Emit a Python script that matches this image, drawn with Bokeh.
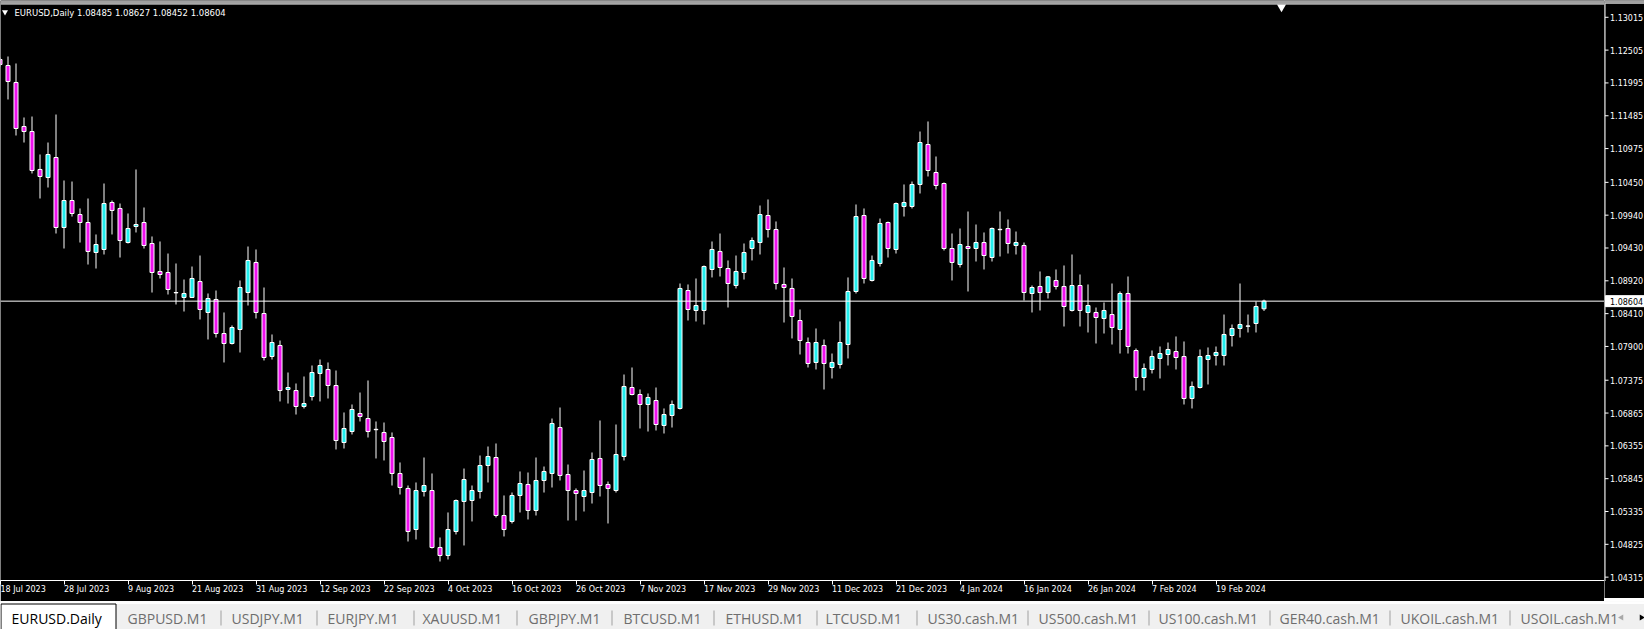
import math
from bokeh.plotting import figure
from bokeh.models import (ColumnDataSource, FixedTicker, Span, Range1d, BoxAnnotation)
from bokeh.layouts import column, row
from bokeh.embed import file_html
from bokeh.resources import INLINE
from bokeh.core.properties import value

# ---------------- data (EURUSD, Daily) ----------------
opens = [
    1.12359, 1.12266, 1.12002, 1.11318, 1.11240, 1.10650, 1.10525, 1.10836, 1.09748, 1.10168,
    1.09950, 1.09826, 1.09360, 1.09407, 1.10137, 1.10044, 1.09515, 1.09764, 1.09826, 1.09500,
    1.09065, 1.09049, 1.08738, 1.08661, 1.08661, 1.08909, 1.08428, 1.08630, 1.08101, 1.07946,
    1.08163, 1.08738, 1.09205, 1.08412, 1.07744, 1.07915, 1.07231, 1.07215, 1.06967, 1.07122,
    1.07480, 1.07542, 1.07293, 1.06407, 1.06578, 1.06858, 1.06780, 1.06612, 1.06563, 1.06485,
    1.05926, 1.05693, 1.05055, 1.05646, 1.05661, 1.04776, 1.04651, 1.05024, 1.05491, 1.05506,
    1.05646, 1.06050, 1.06174, 1.05273, 1.05180, 1.05584, 1.05755, 1.05351, 1.05817, 1.05926,
    1.06640, 1.05910, 1.05661, 1.05568, 1.05630, 1.06159, 1.05755, 1.05661, 1.06190, 1.07262,
    1.07153, 1.06998, 1.07060, 1.06672, 1.06827, 1.06936, 1.08769, 1.08459, 1.08459, 1.09096,
    1.09376, 1.09111, 1.08847, 1.09049, 1.09422, 1.09515, 1.09935, 1.09717, 1.08863, 1.08801,
    1.08303, 1.07961, 1.07651, 1.07915, 1.07573, 1.07619, 1.07930, 1.08754, 1.09935, 1.08925,
    1.09189, 1.09826, 1.09407, 1.10075, 1.10075, 1.10417, 1.11038, 1.10603, 1.10432, 1.09422,
    1.09173, 1.09453, 1.09422, 1.09515, 1.09282, 1.09720, 1.09733, 1.09469, 1.09469, 1.08723,
    1.08832, 1.08738, 1.08925, 1.08832, 1.08459, 1.08847, 1.08428, 1.08428, 1.08334, 1.08396,
    1.08163, 1.08723, 1.07837, 1.07417, 1.07542, 1.07713, 1.07775, 1.07821, 1.07744, 1.07091,
    1.07262, 1.07697, 1.07759, 1.07759, 1.08070, 1.08179, 1.08214, 1.08257, 1.08485]

highs = [
    1.12390, 1.12406, 1.12297, 1.11458, 1.11473, 1.10883, 1.11069, 1.11504, 1.10479, 1.10463,
    1.10044, 1.10199, 1.09640, 1.10432, 1.10168, 1.10121, 1.09966, 1.10650, 1.10059, 1.09609,
    1.09531, 1.09344, 1.09189, 1.08940, 1.09142, 1.09313, 1.08723, 1.08769, 1.08428, 1.08226,
    1.08925, 1.09453, 1.09407, 1.08816, 1.08086, 1.07992, 1.07495, 1.07324, 1.07433, 1.07604,
    1.07697, 1.07651, 1.07526, 1.06874, 1.06998, 1.07184, 1.07371, 1.06734, 1.06718, 1.06563,
    1.06097, 1.05739, 1.05786, 1.06174, 1.05926, 1.04931, 1.05320, 1.05522, 1.06003, 1.05739,
    1.06205, 1.06345, 1.06392, 1.05584, 1.05630, 1.05957, 1.05941, 1.06174, 1.06034, 1.06780,
    1.06951, 1.06065, 1.05693, 1.05972, 1.06252, 1.06749, 1.05801, 1.06687, 1.07464, 1.07573,
    1.07231, 1.07169, 1.07262, 1.06936, 1.07060, 1.08878, 1.08863, 1.08956, 1.09158, 1.09531,
    1.09655, 1.09236, 1.09313, 1.09500, 1.09593, 1.10090, 1.10184, 1.09842, 1.09127, 1.08956,
    1.08474, 1.08039, 1.08179, 1.08008, 1.07790, 1.08288, 1.08972, 1.10106, 1.10044, 1.09313,
    1.09888, 1.09840, 1.10137, 1.10417, 1.10463, 1.11240, 1.11396, 1.10852, 1.10448, 1.09655,
    1.09733, 1.09997, 1.09795, 1.09671, 1.09748, 1.09997, 1.09873, 1.09686, 1.09515, 1.08847,
    1.09065, 1.08995, 1.09096, 1.09158, 1.09329, 1.09018, 1.08863, 1.08505, 1.08583, 1.08878,
    1.08754, 1.08987, 1.07868, 1.07635, 1.07837, 1.07899, 1.07961, 1.08055, 1.07977, 1.07355,
    1.07853, 1.07884, 1.07899, 1.08396, 1.08241, 1.08878, 1.08396, 1.08599, 1.08627]

lows = [
    1.12250, 1.11738, 1.11178, 1.11069, 1.10588, 1.10199, 1.10370, 1.09655, 1.09422, 1.09919,
    1.09515, 1.09173, 1.09111, 1.09329, 1.09640, 1.09282, 1.09500, 1.09671, 1.09422, 1.08738,
    1.08956, 1.08707, 1.08552, 1.08443, 1.08655, 1.08319, 1.08008, 1.08039, 1.07651, 1.07930,
    1.07806, 1.08536, 1.08334, 1.07682, 1.07697, 1.07045, 1.07013, 1.06842, 1.06936, 1.07060,
    1.07045, 1.07091, 1.06299, 1.06314, 1.06532, 1.06734, 1.06485, 1.06159, 1.06128, 1.05739,
    1.05599, 1.04869, 1.04900, 1.05568, 1.04760, 1.04558, 1.04589, 1.04978, 1.04807, 1.05180,
    1.05537, 1.05786, 1.05242, 1.04947, 1.05149, 1.05320, 1.05211, 1.05273, 1.05630, 1.05708,
    1.05817, 1.05195, 1.05195, 1.05335, 1.05459, 1.05568, 1.05149, 1.05630, 1.06128, 1.07140,
    1.06625, 1.06578, 1.06594, 1.06547, 1.06640, 1.06920, 1.08303, 1.08288, 1.08241, 1.08972,
    1.08987, 1.08505, 1.08801, 1.08940, 1.09236, 1.09329, 1.09593, 1.08785, 1.08272, 1.08024,
    1.07775, 1.07573, 1.07542, 1.07231, 1.07402, 1.07557, 1.07713, 1.08723, 1.08878, 1.08909,
    1.09142, 1.09282, 1.09344, 1.09919, 1.10044, 1.10277, 1.10541, 1.10339, 1.09391, 1.08925,
    1.09127, 1.08754, 1.09220, 1.09096, 1.09220, 1.09298, 1.09344, 1.09329, 1.08614, 1.08428,
    1.08459, 1.08645, 1.08785, 1.08210, 1.08443, 1.08210, 1.08117, 1.07946, 1.08101, 1.07930,
    1.07790, 1.07790, 1.07215, 1.07215, 1.07480, 1.07402, 1.07604, 1.07542, 1.06998, 1.06936,
    1.07247, 1.07309, 1.07604, 1.07604, 1.07899, 1.08039, 1.08117, 1.08117, 1.08452]

closes = [
    1.12281, 1.12017, 1.11287, 1.11240, 1.10634, 1.10541, 1.10883, 1.09748, 1.10168, 1.09966,
    1.09826, 1.09376, 1.09484, 1.10121, 1.10013, 1.09546, 1.09733, 1.09795, 1.09469, 1.09049,
    1.09018, 1.08785, 1.08733, 1.08723, 1.08956, 1.08474, 1.08645, 1.08101, 1.07946, 1.08194,
    1.08816, 1.09236, 1.08428, 1.07728, 1.07961, 1.07215, 1.07262, 1.06967, 1.07013, 1.07495,
    1.07604, 1.07293, 1.06438, 1.06625, 1.06920, 1.06811, 1.06578, 1.06606, 1.06423, 1.05926,
    1.05708, 1.05024, 1.05661, 1.05739, 1.04776, 1.04651, 1.05055, 1.05506, 1.05832, 1.05661,
    1.06050, 1.06190, 1.05273, 1.05055, 1.05584, 1.05770, 1.05351, 1.05817, 1.05957, 1.06703,
    1.05895, 1.05661, 1.05615, 1.05661, 1.06143, 1.05739, 1.05693, 1.06221, 1.07278, 1.07153,
    1.06998, 1.07107, 1.06687, 1.06842, 1.06998, 1.08801, 1.08474, 1.08536, 1.09142, 1.09407,
    1.09127, 1.08878, 1.09065, 1.09360, 1.09546, 1.09950, 1.09717, 1.08878, 1.08816, 1.08365,
    1.07992, 1.07635, 1.07961, 1.07635, 1.07651, 1.07961, 1.08754, 1.09919, 1.08956, 1.09236,
    1.09811, 1.09422, 1.10121, 1.10137, 1.10417, 1.11069, 1.10634, 1.10401, 1.09422, 1.09205,
    1.09484, 1.09422, 1.09515, 1.09313, 1.09733, 1.09714, 1.09500, 1.09515, 1.08738, 1.08816,
    1.08738, 1.08982, 1.08832, 1.08521, 1.08847, 1.08459, 1.08536, 1.08350, 1.08459, 1.08194,
    1.08723, 1.07899, 1.07417, 1.07557, 1.07744, 1.07790, 1.07853, 1.07728, 1.07091, 1.07278,
    1.07744, 1.07759, 1.07806, 1.08086, 1.08179, 1.08241, 1.08218, 1.08521, 1.08604]

date_labels = ["18 Jul 2023", "28 Jul 2023", "9 Aug 2023", "21 Aug 2023", "31 Aug 2023",
               "12 Sep 2023", "22 Sep 2023", "4 Oct 2023", "16 Oct 2023", "26 Oct 2023",
               "7 Nov 2023", "17 Nov 2023", "29 Nov 2023", "11 Dec 2023", "21 Dec 2023",
               "4 Jan 2024", "16 Jan 2024", "26 Jan 2024", "7 Feb 2024", "19 Feb 2024"]
date_label_bars = [0, 8, 16, 24, 32, 40, 48, 56, 64, 72, 80, 88, 96, 104, 112,
                   120, 128, 136, 144, 152]

price_ticks = [1.13015, 1.12505, 1.11995, 1.11485, 1.10975, 1.10450, 1.09940, 1.09430,
               1.08920, 1.08410, 1.07900, 1.07375, 1.06865, 1.06355, 1.05845, 1.05335,
               1.04825, 1.04315]

symbol = "EURUSD"
timeframe = "Daily"
tab_names = ["EURUSD.Daily", "GBPUSD.M1", "USDJPY.M1", "EURJPY.M1", "XAUUSD.M1",
             "GBPJPY.M1", "BTCUSD.M1", "ETHUSD.M1", "LTCUSD.M1", "US30.cash.M1",
             "US500.cash.M1", "US100.cash.M1", "GER40.cash.M1", "UKOIL.cash.M1",
             "USOIL.cash.M1"]

# ---------------- layout constants (pixels) ----------------
FONT = "DejaVu Sans"
TAB_FONT = "Open Sans"
BULL = "#22eeee"
BEAR = "#ee11ee"
W, H = 1644, 629
FRAME_W, FRAME_H = 1604, 580      # chart frame
AX_W = W - FRAME_W                # right price scale
BOT_H = 18                        # date scale
TAB_H = H - FRAME_H - BOT_H       # symbol tabs
BAR_PX = 8
X0 = 0.0625
X1 = X0 + FRAME_W / BAR_PX
PP = 0.0001554                    # price per pixel
Y1 = 1.13276
Y0 = Y1 - FRAME_H * PP


def px_x(px):
    return X0 + px / BAR_PX


def px_y(py):
    return Y1 - py * PP


n = len(opens)
xs = list(range(n))
tops = [max(o, c) for o, c in zip(opens, closes)]
bots = [min(o, c) for o, c in zip(opens, closes)]
cols = [BULL if c >= o else BEAR for o, c in zip(opens, closes)]
src = ColumnDataSource(dict(x=xs, o=opens, h=highs, l=lows, c=closes,
                            top=tops, bot=bots, col=cols))

# ---------------- main chart ----------------
p = figure(frame_width=FRAME_W, frame_height=FRAME_H,
           x_range=Range1d(X0, X1), y_range=Range1d(Y0, Y1),
           output_backend="svg", toolbar_location=None,
           background_fill_color="black", border_fill_color="black",
           outline_line_color=None, y_axis_location=None, x_axis_location="below",
           min_border_left=0, min_border_top=0, min_border_right=0,
           min_border_bottom=BOT_H)
p.frame_align = False
p.grid.visible = False

xax = p.xaxis[0]
xt = [max(b, X0 + 0.001) for b in date_label_bars]
xax.ticker = FixedTicker(ticks=xt)
xax.major_label_overrides = {t: lab for t, lab in zip(xt, date_labels)}
xax.major_label_orientation = -1e-6
xax.axis_line_color = "white"
xax.major_tick_line_color = "white"
xax.minor_tick_line_color = None
xax.major_tick_out = 4
xax.major_tick_in = 0
xax.major_label_standoff = 5
xax.major_label_text_color = "white"
xax.major_label_text_font = FONT
xax.major_label_text_font_size = "8px"

# window chrome + top border
p.add_layout(BoxAnnotation(bottom=px_y(3), fill_color="#a0a0a0", fill_alpha=1,
                           line_color=None))
p.add_layout(Span(location=px_y(3.5), dimension="width", line_color="white", line_width=1))

# candles
p.segment(x0="x", y0="l", x1="x", y1="h", source=src, line_color="white", line_width=1)
p.vbar(x="x", width=0.5, top="top", bottom="bot", source=src,
       fill_color="col", line_color="white", line_width=1)

# current price line
last = closes[-1]
p.add_layout(Span(location=last, dimension="width", line_color="white", line_width=1))

# header
header = f"{symbol},{timeframe}  {opens[-1]:.5f} {highs[-1]:.5f} {lows[-1]:.5f} {closes[-1]:.5f}"
p.text(x=[px_x(14)], y=[px_y(12.5)], text=[header], text_color="white",
       text_font=value(FONT), text_font_size="8.5px", text_baseline="middle")
p.scatter(x=[px_x(4.5)], y=[px_y(11.5)], marker="inverted_triangle", size=6,
          color="white", line_color=None)
# chart shift marker
p.scatter(x=[px_x(1281)], y=[px_y(6.5)], marker="inverted_triangle", size=9,
          color="white", line_color=None)

# ---------------- price scale (right) ----------------
r = figure(frame_width=AX_W, frame_height=FRAME_H + BOT_H,
           x_range=Range1d(0, AX_W), y_range=Range1d(px_y(FRAME_H + BOT_H), Y1),
           output_backend="svg", toolbar_location=None,
           background_fill_color="black", border_fill_color="black",
           outline_line_color=None, x_axis_location=None, y_axis_location=None,
           min_border=0)
r.frame_align = False
r.grid.visible = False
r.quad(left=[0], right=[AX_W], top=[Y1], bottom=[px_y(3)], color="#a0a0a0")
r.segment(x0=[0.5], y0=[px_y(3)], x1=[0.5], y1=[px_y(FRAME_H + 0.5)],
          line_color="white", line_width=1)
r.segment(x0=[0.5] * len(price_ticks), y0=price_ticks, x1=[4] * len(price_ticks),
          y1=price_ticks, line_color="white", line_width=1)
r.text(x=[5.5] * len(price_ticks), y=price_ticks, text=[f"{v:.5f}" for v in price_ticks],
       text_color="white", text_font=value(FONT), text_font_size="8px",
       text_baseline="middle")
r.quad(left=[1], right=[AX_W], top=[last + 5.5 * PP], bottom=[last - 5.5 * PP],
       color="white")
r.text(x=[5.5], y=[last], text=[f"{last:.5f}"], text_color="black",
       text_font=value(FONT), text_font_size="8px", text_baseline="middle")

# ---------------- tab bar ----------------
tab_x = [11, 127, 231, 327, 422, 528, 623, 725, 825, 927, 1038, 1158, 1279, 1400, 1520]
sep_x = [220, 316, 413, 516, 611, 713, 816, 916, 1027, 1148, 1269, 1389, 1509]
t = figure(frame_width=W, frame_height=TAB_H, x_range=Range1d(0, W),
           y_range=Range1d(0, TAB_H), output_backend="svg", toolbar_location=None,
           background_fill_color="#f0f0f0", border_fill_color="#f0f0f0",
           outline_line_color=None, x_axis_location=None, y_axis_location=None,
           min_border=0)
t.frame_align = False
t.grid.visible = False
t.quad(left=[0], right=[W], bottom=[TAB_H - 2], top=[TAB_H], color="#ffffff")
t.quad(left=[0.5], right=[115.5], bottom=[2.5], top=[TAB_H - 2.5], fill_color="white",
       line_color="black", line_width=1)
sx = [s + 0.5 for s in sep_x]
t.segment(x0=sx, y0=[7] * len(sx), x1=sx, y1=[22] * len(sx),
          line_color="#a0a0a0", line_width=1)
t.text(x=tab_x, y=[14.5] * len(tab_x), text=tab_names,
       text_color=["black"] + ["#6e6e6e"] * (len(tab_names) - 1),
       text_font=value(TAB_FONT), text_font_size="14px", text_baseline="middle")
t.scatter(x=[1621, 1641], y=[15, 15], marker="triangle", size=6,
          angle=[math.pi / 2, -math.pi / 2], color=["#a8a8a8", "black"], line_color=None)

layout = column(row(p, r, spacing=0), t, spacing=0)
open("out.html", "w").write(file_html(layout, INLINE))
